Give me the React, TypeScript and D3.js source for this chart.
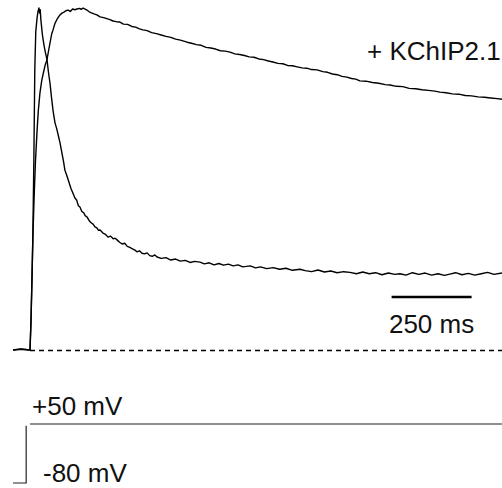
import React from "react";
import * as d3 from "d3";

// Normalised K+ currents (time in ms from step onset, current relative to peak)
const fastTrace: [number, number][] = [
  [-53, 0], [-30, 0.003], [0, 0], [3, 0.08], [6, 0.2], [9, 0.34], [12, 0.55], [15, 0.82], [18, 0.93],
  [22, 0.97], [25, 0.99], [28, 1.0], [30, 0.985], [32, 0.995], [34, 0.965], [39, 0.92], [44, 0.89],
  [48, 0.87], [53, 0.85], [58, 0.81], [62.5, 0.78], [67, 0.74], [72, 0.7], [78, 0.665], [84, 0.645],
  [89, 0.625], [94, 0.605], [100, 0.575], [105, 0.55], [109, 0.526], [115, 0.51], [122, 0.49],
  [128, 0.472], [134, 0.459], [140, 0.445], [146, 0.438], [151, 0.422], [156, 0.418], [162, 0.405],
  [168, 0.401], [173, 0.392], [178, 0.389], [185, 0.378], [191, 0.372], [197, 0.368], [203, 0.36],
  [209, 0.357], [214, 0.35], [219, 0.351], [228, 0.342], [236, 0.338], [244, 0.33], [252, 0.333],
  [260, 0.325], [266, 0.327], [272, 0.322], [280, 0.315], [288, 0.31], [296, 0.312], [304, 0.303],
  [312, 0.3], [320, 0.296], [328, 0.292], [334, 0.287], [342, 0.29], [350, 0.283], [358, 0.281],
  [366, 0.284], [374, 0.276], [382, 0.274], [390, 0.278], [397, 0.272], [410, 0.268], [425, 0.27],
  [440, 0.263], [455, 0.266], [470, 0.26], [485, 0.262], [500, 0.256], [515, 0.259], [531, 0.257],
  [545, 0.252], [560, 0.255], [575, 0.249], [590, 0.253], [605, 0.248], [620, 0.251], [635, 0.246],
  [650, 0.249], [665, 0.243], [688, 0.246], [705, 0.24], [720, 0.243], [740, 0.238], [760, 0.241],
  [780, 0.236], [800, 0.239], [820, 0.233], [844, 0.236], [860, 0.232], [880, 0.229], [900, 0.234],
  [920, 0.228], [940, 0.231], [960, 0.226], [980, 0.229], [1000, 0.227], [1020, 0.223], [1040, 0.228],
  [1060, 0.223], [1080, 0.226], [1100, 0.22], [1120, 0.225], [1140, 0.221], [1156, 0.223],
  [1175, 0.219], [1195, 0.226], [1215, 0.221], [1235, 0.225], [1255, 0.219], [1275, 0.223],
  [1295, 0.218], [1312, 0.222], [1330, 0.226], [1350, 0.22], [1370, 0.224], [1390, 0.219],
  [1410, 0.223], [1430, 0.227], [1450, 0.221], [1475, 0.225],
];

const kchipTrace: [number, number][] = [
  [-53, 0], [-25, 0.002], [0, 0], [3, 0.08], [6, 0.2], [9.4, 0.342], [13, 0.45], [17, 0.55], [22, 0.64],
  [26, 0.7], [31, 0.751], [37, 0.79], [43, 0.815], [48, 0.835], [53, 0.848], [58, 0.875], [63, 0.9],
  [68, 0.925], [72, 0.936], [78, 0.955], [85, 0.968], [92, 0.978], [100, 0.985], [106, 0.988],
  [112, 0.992], [119, 0.994], [126, 0.99], [133, 0.997], [140, 0.995], [147, 0.997], [155, 0.999],
  [160, 0.996], [166, 1.0], [172, 0.997], [178, 0.994], [185, 0.989], [192, 0.986], [200, 0.983],
  [209, 0.98], [219, 0.974], [230, 0.972], [240, 0.969], [250, 0.966], [259, 0.962], [270, 0.96],
  [281, 0.959], [292, 0.953], [305, 0.952], [318, 0.946], [330, 0.944], [342, 0.939], [353, 0.936],
  [366, 0.934], [380, 0.928], [395, 0.925], [410, 0.921], [425, 0.917], [440, 0.914], [455, 0.909],
  [470, 0.906], [491, 0.9], [505, 0.897], [520, 0.893], [535, 0.891], [550, 0.885], [565, 0.883],
  [580, 0.88], [595, 0.875], [610, 0.874], [625, 0.871], [640, 0.866], [655, 0.864], [670, 0.861],
  [685, 0.857], [700, 0.856], [715, 0.851], [730, 0.849], [745, 0.845], [759, 0.842], [775, 0.838],
  [790, 0.837], [805, 0.832], [820, 0.831], [835, 0.828], [850, 0.825], [865, 0.824], [880, 0.82],
  [897, 0.819], [915, 0.814], [930, 0.812], [945, 0.807], [960, 0.805], [975, 0.8], [990, 0.798],
  [1005, 0.794], [1018, 0.792], [1031, 0.787], [1050, 0.786], [1070, 0.782], [1090, 0.78],
  [1110, 0.776], [1125, 0.775], [1145, 0.771], [1165, 0.77], [1185, 0.765], [1205, 0.764],
  [1225, 0.761], [1245, 0.759], [1265, 0.757], [1281, 0.754], [1300, 0.752], [1320, 0.749],
  [1340, 0.748], [1360, 0.744], [1380, 0.743], [1400, 0.74], [1420, 0.739], [1440, 0.737],
  [1460, 0.735], [1475, 0.733],
];

// Voltage protocol (ms, mV)
const holdingSegment: [number, number][] = [[-53, -80], [-12, -80], [-12, 46]];
const pulseSegment: [number, number][] = [[0, 50], [1475, 50]];

const traceLabel = "+ KChIP2.1";
const scaleBarMs = 250;
const scaleBarLabel = "250 ms";
const pulseLabel = "+50 mV";
const holdLabel = "-80 mV";

const FONT = "'Liberation Sans', Arial, Helvetica, sans-serif";

export default function App() {
  const x = d3.scaleLinear().domain([0, 1475]).range([30, 502]);
  const y = d3.scaleLinear().domain([0, 1]).range([350, 8]);
  const v = d3.scaleLinear().domain([-80, 50]).range([483, 424]);

  const curLine = d3.line<[number, number]>().x((d) => x(d[0])).y((d) => y(d[1]));
  const vLine = d3.line<[number, number]>().x((d) => x(d[0])).y((d) => v(d[1]));

  const barX0 = x(1130);
  const barX1 = barX0 + (x(scaleBarMs) - x(0));

  return (
    <svg
      width={502}
      height={488}
      style={{ position: "absolute", left: 0, top: 0, background: "#fff" }}
      fontFamily={FONT}
    >
      <rect width={502} height={488} fill="#fff" />
      <line
        x1={x(0)}
        x2={x(1475)}
        y1={y(0) + 0.5}
        y2={y(0) + 0.5}
        stroke="#000"
        strokeWidth={1.3}
        strokeDasharray="5 4"
      />
      <path d={curLine(fastTrace) || ""} fill="none" stroke="#000" strokeWidth={1.4} strokeLinejoin="round" />
      <path d={curLine(kchipTrace) || ""} fill="none" stroke="#000" strokeWidth={1.4} strokeLinejoin="round" />
      <text x={367} y={60} fontSize={26} fill="#111">
        {traceLabel}
      </text>
      <line x1={barX0} x2={barX1} y1={297} y2={297} stroke="#000" strokeWidth={2.6} />
      <text x={(barX0 + barX1) / 2} y={333} fontSize={26} textAnchor="middle" fill="#111">
        {scaleBarLabel}
      </text>
      <path d={vLine(holdingSegment) || ""} fill="none" stroke="#222" strokeWidth={1.2} />
      <path d={vLine(pulseSegment) || ""} fill="none" stroke="#222" strokeWidth={1.2} />
      <text x={32} y={415} fontSize={26} fill="#111">
        {pulseLabel}
      </text>
      <text x={43} y={482} fontSize={26} fill="#111">
        {holdLabel}
      </text>
    </svg>
  );
}
